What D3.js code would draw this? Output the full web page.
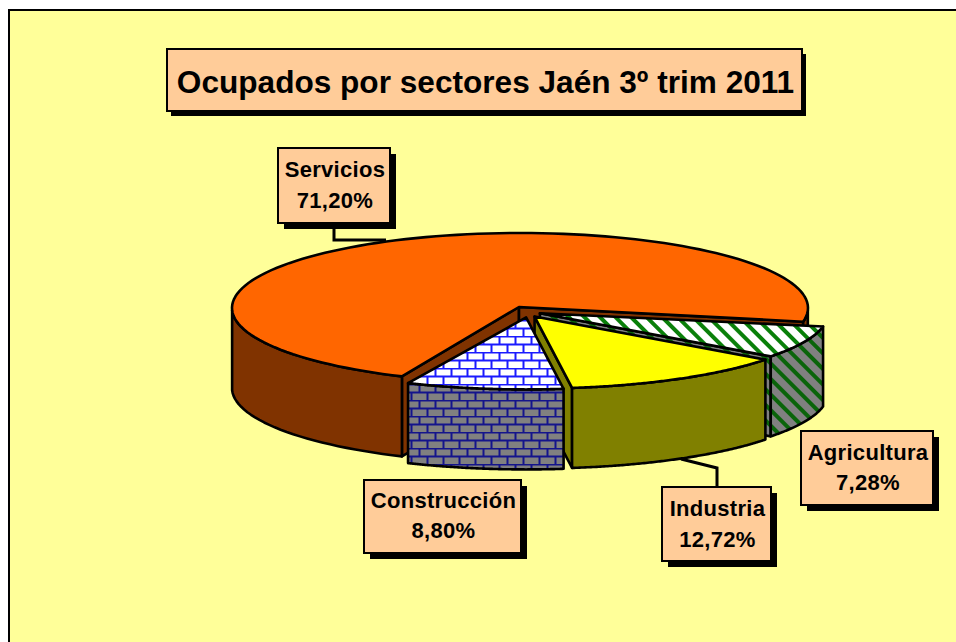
<!DOCTYPE html>
<html><head><meta charset="utf-8">
<script src="https://cdn.jsdelivr.net/npm/d3@7/dist/d3.min.js"></script>
<style>html,body{margin:0;padding:0;background:#fff}svg{display:block}text{font-family:"Liberation Sans",Arial,sans-serif;font-weight:bold;fill:#000}</style>
</head><body><svg id="c" width="956" height="642"></svg>
<script>
const title = "Ocupados por sectores Jaén 3º trim 2011";
const sectors = ["Servicios","Agricultura","Industria","Construcción"];
const shares = [71.20,7.28,12.72,8.80];
const shareLabels = ["71,20%","7,28%","12,72%","8,80%"];

const svg = d3.select("#c"), W=956, H=642;
const defs = svg.append("defs");
function brick(id,bg,mortar){
  const p=defs.append("pattern").attr("id",id).attr("patternUnits","userSpaceOnUse").attr("width",16).attr("height",16);
  p.append("rect").attr("width",16).attr("height",16).attr("fill",bg);
  const d="M0 0.5H16M0 8.5H16M3.5 0V8M11.5 8V16";
  p.append("path").attr("d",d).attr("stroke",mortar).attr("stroke-width",2).attr("fill","none");
}
function hatch(id,bg,ink){
  const p=defs.append("pattern").attr("id",id).attr("patternUnits","userSpaceOnUse").attr("width",11).attr("height",11).attr("patternTransform","rotate(-45)");
  p.append("rect").attr("width",11).attr("height",11).attr("fill",bg);
  p.append("rect").attr("width",4).attr("height",11).attr("fill",ink);
}
brick("bTop","#fff","#1a1aff"); brick("bSide","#808080","#14148c");
hatch("hTop","#fff","#0a800a"); hatch("hSide","#808080","#0a640a");

const styles=[
 {top:"#FF6600",side:"#803300"},
 {top:"url(#hTop)",side:"url(#hSide)"},
 {top:"#FFFF00",side:"#808000"},
 {top:"url(#bTop)",side:"url(#bSide)"}];

svg.append("rect").attr("x",9).attr("y",10).attr("width",W).attr("height",H).attr("fill","#FFFF99").attr("stroke","#000").attr("stroke-width",2);

// pie geometry
const rx=288, depth=80, toRad=Math.PI/180, startDeg=204.2;
const pie=d3.pie().value(d=>d).sort(null).startAngle(startDeg*toRad).endAngle((startDeg+360)*toRad);
const arcs=pie(shares);
const base={x:528,y:310.5}, ex={x:13,y:7};
const lineGen=d3.line();
arcs.forEach((a,i)=>{
  const mid=(a.startAngle+a.endAngle)/2;
  const c= i===0 ? {x:520,y:308,ry:75,ax:519,ay:307}
    : {x:base.x+ex.x*Math.sin(mid), y:base.y-ex.y*Math.cos(mid), ry:72};
  if(i!==0){c.ax=c.x;c.ay=c.y;}
  const P=t=>[c.x+rx*Math.sin(t), c.y-c.ry*Math.cos(t)];
  const ts=d3.range(0,121).map(k=>a.startAngle+(a.endAngle-a.startAngle)*k/120);
  const rim=ts.map(P), apex=[c.ax,c.ay];
  const g=svg.append("g").attr("stroke","#000").attr("stroke-width",2.6).attr("stroke-linejoin","round");
  const s=styles[i];
  const down=p=>[p[0],p[1]+depth];
  const poly=pts=>g.append("path").attr("d",lineGen(pts)+"Z");
  // radial faces that look to the viewer
  const first=rim[0], last=rim[rim.length-1];
  const tStart=a.startAngle-Math.PI/2, tEnd=a.endAngle-Math.PI/2;
  if(Math.sin(tStart-Math.PI/2)>0) poly([apex,first,down(first),down(apex)]).attr("fill",s.side);
  if(Math.sin(tEnd+Math.PI/2)>0) poly([apex,last,down(last),down(apex)]).attr("fill",s.side);
  // curved wall, only the front half of the rim
  let run=[];
  const flush=()=>{ if(run.length>1) poly(run.concat(run.map(down).reverse())).attr("fill",s.side); run=[]; };
  ts.forEach((t,k)=>{ if(-Math.cos(t)>=0) run.push(rim[k]); else flush(); });
  flush();
  // top
  poly([apex].concat(rim)).attr("fill",s.top);
});

function box(x,y,w,h,sh,lines,size,ys,spacing){
  svg.append("rect").attr("x",x+sh[0]).attr("y",y+sh[1]).attr("width",w).attr("height",h).attr("fill","#000");
  svg.append("rect").attr("x",x).attr("y",y).attr("width",w).attr("height",h).attr("fill","#FFCC99").attr("stroke","#000").attr("stroke-width",2);
  lines.forEach((l,k)=>svg.append("text").attr("x",x+w/2+1).attr("y",ys[k]).attr("text-anchor","middle").attr("font-size",size).attr("letter-spacing",spacing).text(l));
}
const leader=pts=>svg.append("path").attr("d",lineGen(pts)).attr("fill","none").attr("stroke","#000").attr("stroke-width",3);
leader([[334,228],[334,240],[386,240]]);
leader([[681,459],[717,468],[717,488]]);

box(167,49,635,62,[4,5],[title],31.6,[93],0);
const layout=[
 {x:278,y:148,w:112,h:75,ty:[177,208]},
 {x:801,y:431,w:132,h:74,ty:[460,490]},
 {x:662,y:487,w:109,h:74,ty:[516,547]},
 {x:364,y:480,w:157,h:73,ty:[508,538]}];
sectors.forEach((n,i)=>{const b=layout[i];
  box(b.x,b.y,b.w,b.h,[6,6],[n,shareLabels[i]],22,b.ty,0.3);});
</script></body></html>
